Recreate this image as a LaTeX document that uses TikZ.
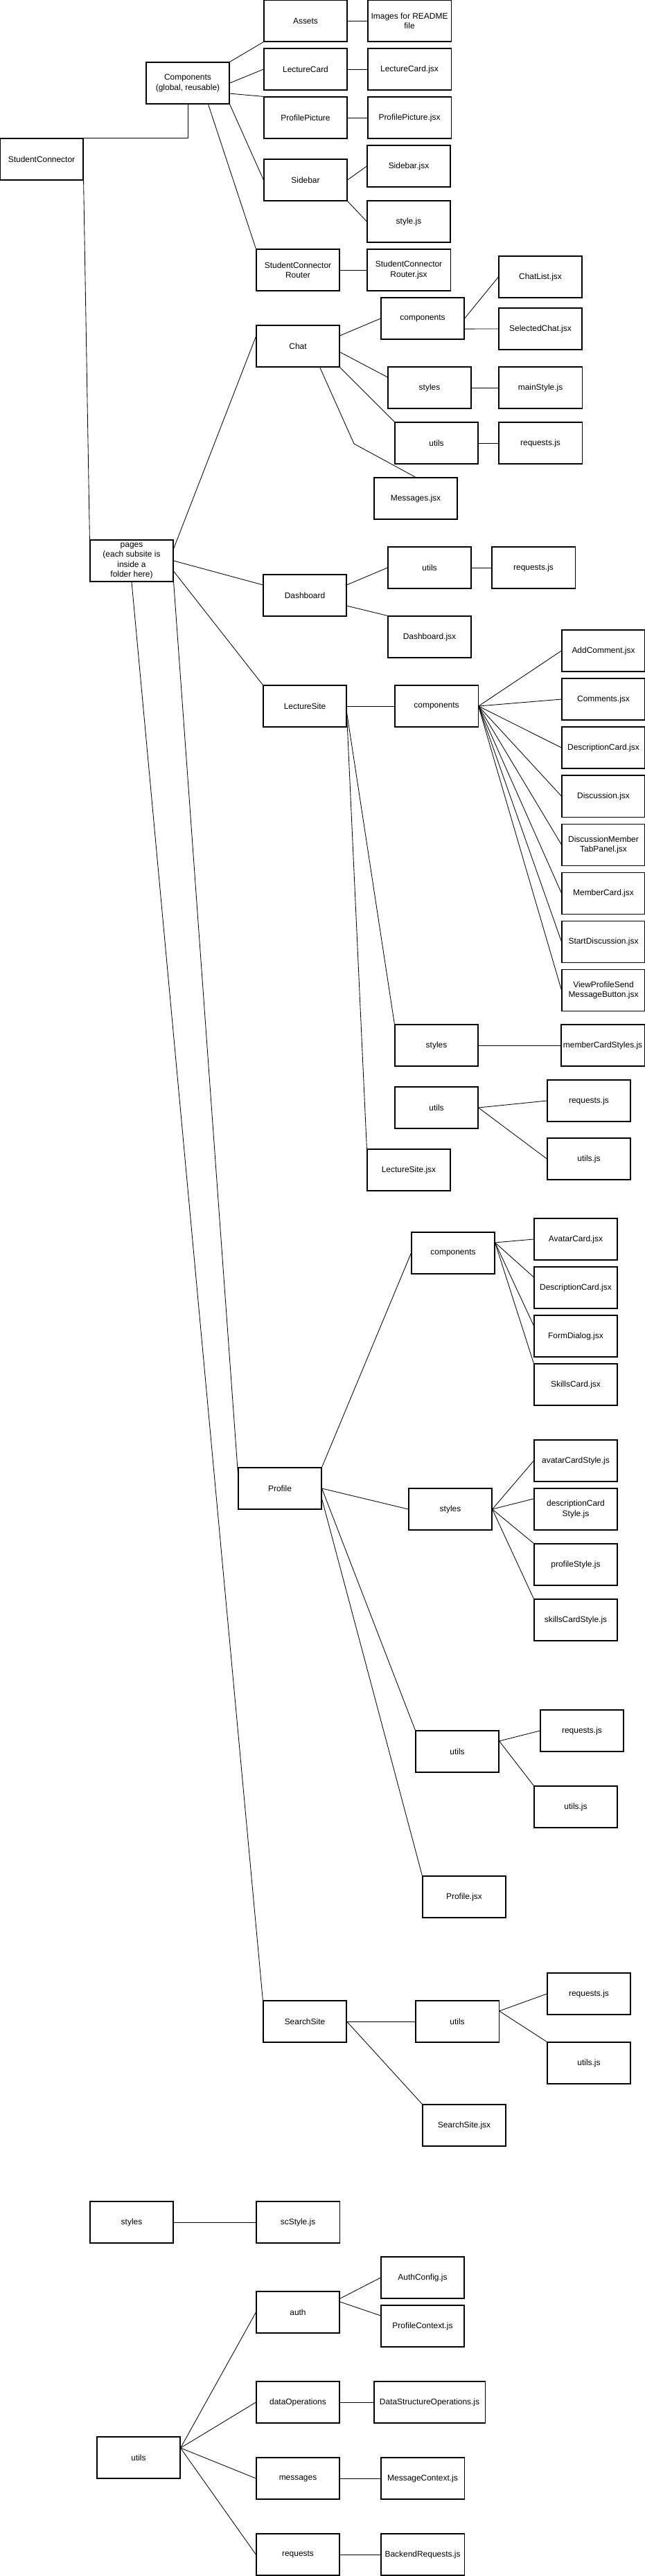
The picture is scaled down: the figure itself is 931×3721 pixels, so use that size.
\documentclass[tikz,border=0pt]{standalone}
\usepackage{fontspec}
\setmainfont{Liberation Sans}
\usetikzlibrary{positioning}

\begin{document}
\begin{tikzpicture}[x=0.025cm, y=-0.025cm, node distance=3.75cm, on grid,
    box/.style={draw, line width=0.8pt, rectangle, minimum width=3cm, minimum height=1.5cm,
      inner sep=1pt, align=center, font=\fontsize{8.5pt}{10.2pt}\selectfont},
    link/.style={line width=0.6pt}]
    \useasboundingbox (0,0) rectangle (931,3721);

    % root and global components
    \node[box] (sc)       at (60,230)  {StudentConnector};
    \node[box] (comp)     at (271,120) {Components\\(global, reusable)};
    \node[box] (assets)   at (441,30)  {Assets};
    \node[box] (readme)   [right=of assets] {Images for README\\file};
    \node[box] (lcard)    at (441,100) {LectureCard};
    \node[box] (lcardjsx) [right=of lcard] {LectureCard.jsx};
    \node[box] (ppic)     at (441,170) {ProfilePicture};
    \node[box] (ppicjsx)  [right=of ppic] {ProfilePicture.jsx};
    \node[box] (sidebar)  at (441,260) {Sidebar};
    \node[box] (sidebarjsx) at (590,240) {Sidebar.jsx};
    \node[box] (stylejs)  at (590,320) {style.js};
    \node[box] (router)   at (430,390) {StudentConnector\\Router};
    \node[box] (routerjsx) [right=4cm of router] {StudentConnector\\Router.jsx};

    % pages
    \node[box] (pages)    at (190,810) {pages\\(each subsite is\\inside a\\folder here)};
    \node[box] (chat)     at (430,500) {Chat};
    \node[box] (chatcomp) at (610,460) {components};
    \node[box] (chatlist) at (780,400) {ChatList.jsx};
    \node[box] (selchat)  at (780,475) {SelectedChat.jsx};
    \node[box] (chatstyles) at (620,560) {styles};
    \node[box] (mainstyle) [right=4cm of chatstyles] {mainStyle.js};
    \node[box] (chatutils) at (630,640) {utils};
    \node[box] (chatreq)  [right=of chatutils] {requests.js};
    \node[box] (msgjsx)   at (600,720) {Messages.jsx};
    \coordinate (chatbend) at (511,641);

    \node[box] (dash)     at (440,860) {Dashboard};
    \node[box] (dashutils) at (620,820) {utils};
    \node[box] (dashreq)  [right=of dashutils] {requests.js};
    \node[box] (dashjsx)  at (620,920) {Dashboard.jsx};

    \node[box] (lsite)    at (440,1020) {LectureSite};
    \node[box] (lcomp)    [right=4.75cm of lsite] {components};
    \node[box] (addcomm)  at (871,940)  {AddComment.jsx};
    \node[box] (comments) [below=1.75cm of addcomm] {Comments.jsx};
    \node[box] (ldesc)    [below=1.75cm of comments] {DescriptionCard.jsx};
    \node[box] (discuss)  [below=1.75cm of ldesc] {Discussion.jsx};
    \node[box] (dmtab)    [below=1.75cm of discuss] {DiscussionMember\\TabPanel.jsx};
    \node[box] (mcard)    [below=1.75cm of dmtab] {MemberCard.jsx};
    \node[box] (startdisc) [below=1.75cm of mcard] {StartDiscussion.jsx};
    \node[box] (viewprof) [below=1.75cm of startdisc] {ViewProfileSend\\MessageButton.jsx};
    \node[box] (lstyles)  at (630,1510) {styles};
    \node[box] (mcstyles) [right=6cm of lstyles] {memberCardStyles.js};
    \node[box] (lutils)   at (630,1600) {utils};
    \node[box] (lreq)     at (850,1590) {requests.js};
    \node[box] (lutilsjs) at (850,1674) {utils.js};
    \node[box] (lsitejsx) at (590,1690) {LectureSite.jsx};

    \node[box] (profile)  at (404,2150) {Profile};
    \node[box] (pcomp)    at (654,1810) {components};
    \node[box] (avatar)   at (831,1790) {AvatarCard.jsx};
    \node[box] (pdesc)    at (831,1860) {DescriptionCard.jsx};
    \node[box] (formdlg)  at (831,1930) {FormDialog.jsx};
    \node[box] (skills)   at (831,2000) {SkillsCard.jsx};
    \node[box] (pstyles)  at (650,2180) {styles};
    \node[box] (avstyle)  at (831,2110) {avatarCardStyle.js};
    \node[box] (descstyle) at (831,2180) {descriptionCard\\Style.js};
    \node[box] (profstyle) at (831,2260) {profileStyle.js};
    \node[box] (skstyle)  at (831,2340) {skillsCardStyle.js};
    \node[box] (putils)   at (660,2530) {utils};
    \node[box] (preq)     at (840,2500) {requests.js};
    \node[box] (putilsjs) at (831,2610) {utils.js};
    \node[box] (profjsx)  at (670,2740) {Profile.jsx};

    \node[box] (search)   at (440,2920) {SearchSite};
    \node[box] (sutils)   [right=5.5cm of search] {utils};
    \node[box] (sreq)     at (850,2880) {requests.js};
    \node[box] (sutilsjs) at (850,2980) {utils.js};
    \node[box] (searchjsx) at (670,3070) {SearchSite.jsx};

    % styles and utils
    \node[box] (rstyles)  at (190,3210) {styles};
    \node[box] (scstyle)  [right=6cm of rstyles] {scStyle.js};
    \node[box] (rutils)   at (200,3550) {utils};
    \node[box] (auth)     at (430,3340) {auth};
    \node[box] (authcfg)  at (610,3290) {AuthConfig.js};
    \node[box] (profctx)  at (610,3360) {ProfileContext.js};
    \node[box] (dataops)  at (430,3470) {dataOperations};
    \node[box, minimum width=4cm] (dso) [right=4.75cm of dataops] {DataStructureOperations.js};
    \node[box] (messages) at (430,3580) {messages};
    \node[box] (msgctx)   [right=4.5cm of messages] {MessageContext.js};
    \node[box] (requests) at (430,3690) {requests};
    \node[box] (backend)  [right=4.5cm of requests] {BackendRequests.js};

    \draw[link] (comp.south) |- (sc.north east);
    \path[link]
      (sc.south east) edge (pages.north west)
      (comp.north east) edge (assets.south west)
      (comp.east) edge (lcard.west)
      (comp.-14) edge (ppic.north west)
      (comp.south east) edge (sidebar.west)
      (comp.-46) edge (router.north west)
      (assets) edge (readme)
      (lcard) edge (lcardjsx)
      (ppic) edge (ppicjsx)
      (sidebar.east) edge (sidebarjsx.west)
      (sidebar.south east) edge (stylejs.west)
      (router) edge (routerjsx);

    \path[link]
      (pages.16) edge (chat.167)
      (pages.east) edge (dash.166)
      (pages.-14) edge (lsite.north west)
      (pages.south east) edge (profile.160)
      (pages.south) edge (search.north west)
      (chat.14) edge (chatcomp.west)
      (chatcomp.east) edge (chatlist.west)
      (chatcomp.-14) edge (selchat.west)
      (chat.-8) edge (chatstyles.166)
      (chat.south east) edge (chatutils.north west)
      (chatstyles) edge (mainstyle)
      (chatutils) edge (chatreq);
    \draw[link] (chat.-44) -- (chatbend) -- (msgjsx.north);

    \path[link]
      (dash.14) edge (dashutils.west)
      (dash.-14) edge (dashjsx.north west)
      (dashutils) edge (dashreq)
      (lsite) edge (lcomp)
      (lcomp.east) edge (addcomm.west)
      (lcomp.east) edge (comments.west)
      (lcomp.east) edge (ldesc.west)
      (lcomp.east) edge (discuss.west)
      (lcomp.east) edge (dmtab.west)
      (lcomp.east) edge (mcard.west)
      (lcomp.east) edge (startdisc.west)
      (lcomp.east) edge (viewprof.west)
      (lsite.-9) edge (lstyles.north west)
      (lsite.-12) edge (lsitejsx.north west)
      (lstyles) edge (mcstyles)
      (lutils.east) edge (lreq.west)
      (lutils.east) edge (lutilsjs.west);

    \path[link]
      (profile.north east) edge (pcomp.west)
      (pcomp.14) edge (avatar.west)
      (pcomp.14) edge (pdesc.166)
      (pcomp.14) edge (formdlg.166)
      (pcomp.14) edge (skills.north west)
      (profile.east) edge (pstyles.west)
      (pstyles.east) edge (avstyle.west)
      (pstyles.east) edge (descstyle.166)
      (pstyles.east) edge (profstyle.north west)
      (pstyles.east) edge (skstyle.north west)
      (profile.east) edge (putils.north west)
      (profile.-14) edge (profjsx.north west)
      (putils.14) edge (preq.west)
      (putils.14) edge (putilsjs.north west)
      (search) edge (sutils)
      (search.east) edge (searchjsx.north west)
      (sutils.14) edge (sreq.west)
      (sutils.14) edge (sutilsjs.north west);

    \path[link]
      (rstyles) edge (scstyle)
      (rutils.13) edge (auth.west)
      (rutils.13) edge (dataops.west)
      (rutils.13) edge (messages.west)
      (rutils.13) edge (requests.west)
      (auth.18) edge (authcfg.west)
      (auth.14) edge (profctx.166)
      (dataops) edge (dso)
      (messages) edge (msgctx)
      (requests) edge (backend);
\end{tikzpicture}
\end{document}
